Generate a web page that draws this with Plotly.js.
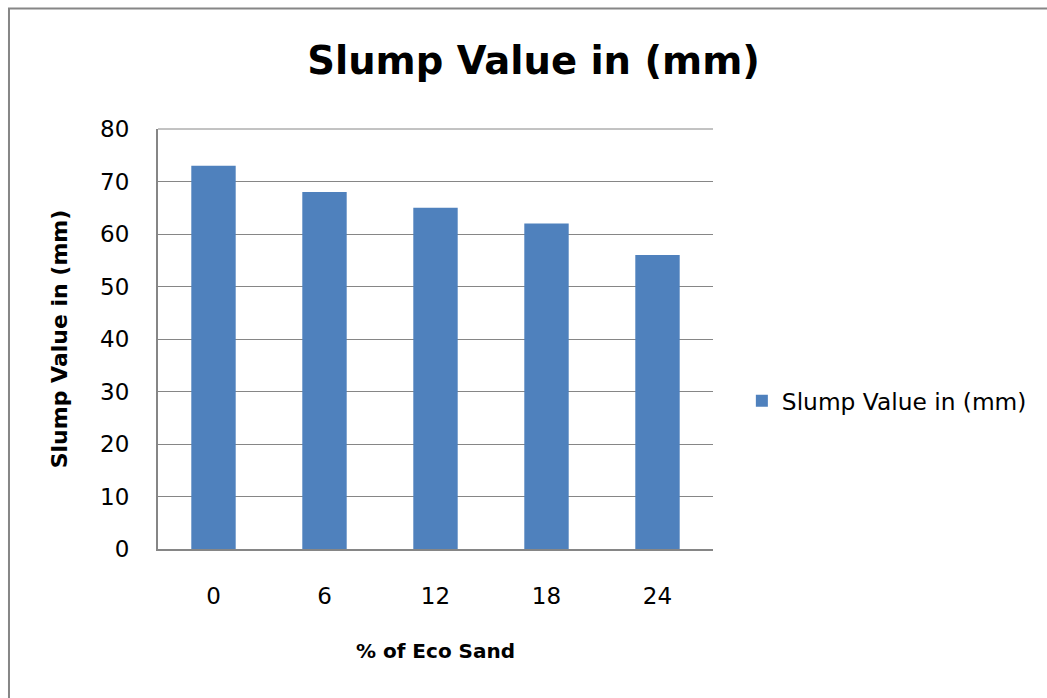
<!DOCTYPE html>
<html><head><meta charset="utf-8">
<script src="https://cdn.plot.ly/plotly-3.0.1.min.js"></script>
<style>html,body{margin:0;padding:0;background:#fff}#chart{width:1047px;height:698px}</style>
</head><body><div id="chart"></div>
<script>
const categories = ["0", "6", "12", "18", "24"];
const slumpValues = [73, 68, 65, 62, 56];
const seriesName = "Slump Value in (mm)";
const yTicks = [0, 10, 20, 30, 40, 50, 60, 70, 80];

const FONT = "'DejaVu Sans', sans-serif";
const trace = {
  type: "bar", x: categories, y: slumpValues, name: seriesName,
  marker: {color: "#4F81BD"}, showlegend: true, hoverinfo: "none"
};
const layout = {
  width: 1047, height: 698,
  margin: {l: 158, r: 334, t: 129, b: 149},
  paper_bgcolor: "#fff", plot_bgcolor: "#fff",
  font: {family: FONT, color: "#000"},
  title: {text: "<b>Slump Value in (mm)</b>", font: {size: 38.5, family: FONT, color: "#000"},
          x: 0.5096, xanchor: "center", y: 0.914, yanchor: "middle"},
  bargap: 0.6,
  showlegend: true,
  legend: {x: 1.052, xanchor: "left", y: 0.352, yanchor: "middle", font: {size: 23.3, family: FONT},
           itemwidth: 30, bgcolor: "rgba(0,0,0,0)"},
  xaxis: {type: "category", showline: true, linecolor: "#868686", linewidth: 2,
          showgrid: false, ticks: "", tickfont: {size: 23}, ticklabelstandoff: 25,
          title: {text: "<b>% of Eco Sand</b>", font: {size: 20}, standoff: 36}},
  yaxis: {range: [0, 80], tickvals: yTicks, showline: true, linecolor: "#868686", linewidth: 2,
          showgrid: true, gridcolor: "#868686", gridwidth: 1, zeroline: false, ticks: "",
          tickfont: {size: 23}, ticklabelstandoff: 22,
          title: {text: "<b>Slump Value in (mm)</b>", font: {size: 22}, standoff: 26}},
  shapes: [
    {type: "line", xref: "paper", yref: "paper", x0: 0, x1: 1, y0: 1, y1: 1, line: {color: "#868686", width: 1}},
    {type: "rect", xref: "paper", yref: "paper", x0: -0.2685, x1: 2, y0: -1, y1: 1.2869,
     line: {color: "#868686", width: 2}, fillcolor: "rgba(0,0,0,0)"}
  ]
};
Plotly.newPlot("chart", [trace], layout, {displayModeBar: false, staticPlot: true});
</script></body></html>
